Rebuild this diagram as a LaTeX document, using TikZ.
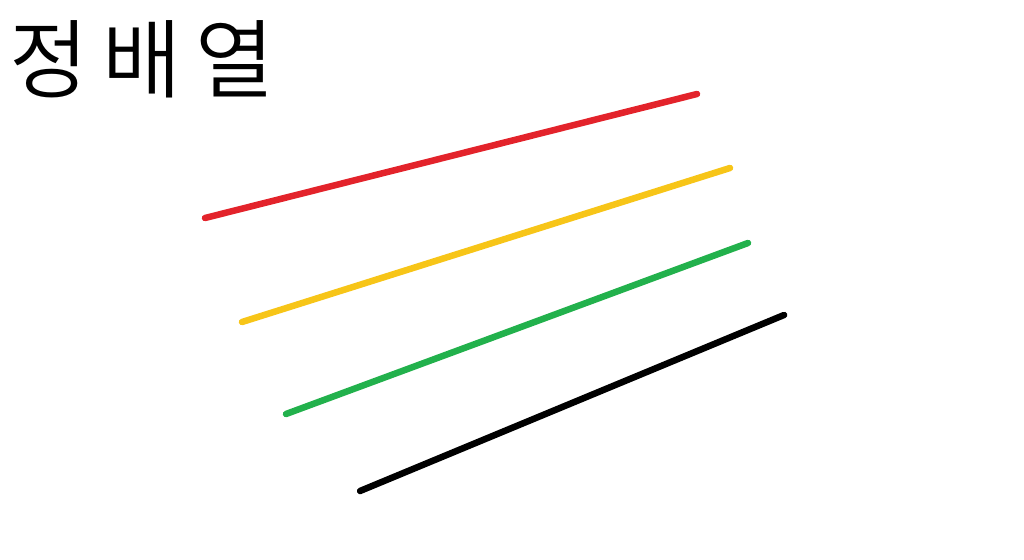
\documentclass[tikz,border=0pt]{standalone}
\usepackage{fontspec}
\newfontfamily\krfont{Noto Sans CJK KR DemiLight}
\definecolor{lnred}{HTML}{E3232B}
\definecolor{lnyellow}{HTML}{F7C518}
\definecolor{lngreen}{HTML}{22B14C}
\definecolor{lnblack}{HTML}{000000}
\tikzset{maline/.style={line width=6.5pt, line cap=round}}
\begin{document}
\begin{tikzpicture}[x=1pt,y=-1pt]
\useasboundingbox (0,0) rectangle (1024,559);
\node[anchor=west, inner sep=0pt, font=\krfont\fontsize{86}{86}\selectfont] (title) at (9,59) {정\hspace{14pt}배\hspace{14pt}열};
\coordinate (r1) at (205,218); \coordinate (r2) at (697,94);
\coordinate (y1) at (242,322); \coordinate (y2) at (730,168);
\coordinate (g1) at (286,414); \coordinate (g2) at (748,243);
\coordinate (k1) at (360,491); \coordinate (k2) at (784,315);
\draw[maline, lnred] (r1) -- (r2);
\draw[maline, lnyellow] (y1) -- (y2);
\draw[maline, lngreen] (g1) -- (g2);
\draw[maline, lnblack] (k1) -- (k2);
\end{tikzpicture}
\end{document}
